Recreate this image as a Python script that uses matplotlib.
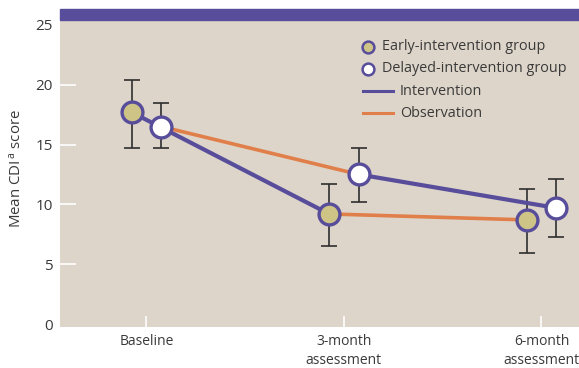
import matplotlib
matplotlib.use("Agg")
import matplotlib.pyplot as plt
from matplotlib.patches import Rectangle
from matplotlib.lines import Line2D

# Mean CDI scores (with error bar limits) per assessment
timepoints = ["Baseline", "3-month\nassessment", "6-month\nassessment"]
early_mean = [17.7, 9.2, 8.7]
early_low = [14.7, 6.5, 5.9]
early_high = [20.4, 11.7, 11.3]
delayed_mean = [16.5, 12.5, 9.7]
delayed_low = [14.7, 10.2, 7.3]
delayed_high = [18.5, 14.7, 12.1]
yticks = [0, 5, 10, 15, 20, 25]

PURPLE = "#584d9b"
ORANGE = "#e07f4a"
KHAKI = "#cdc485"
BEIGE = "#ddd5c9"
TEXT = "#3a3a3a"
ERR = "#2f2f2f"

plt.rcParams["font.family"] = ["Open Sans", "DejaVu Sans"]
plt.rcParams["mathtext.fontset"] = "custom"
plt.rcParams["mathtext.rm"] = "Open Sans"
plt.rcParams["mathtext.it"] = "Open Sans"

W, H = 579, 368
fig = plt.figure(figsize=(W / 100, H / 100), dpi=100)
ax = fig.add_axes([60 / W, 1 - 327.3 / H, 519 / W, 307.3 / H])
ax.set_facecolor(BEIGE)
for s in ax.spines.values():
    s.set_visible(False)

off = 0.075
x = list(range(len(timepoints)))
xe = [v - off for v in x]
xd = [v + off for v in x]

# Intervention segments: early group baseline->3 month, delayed group 3->6 month
ax.plot([xe[0], xe[1]], [early_mean[0], early_mean[1]], color=PURPLE, lw=3.0,
        solid_capstyle="round", zorder=2)
ax.plot([xd[1], xd[2]], [delayed_mean[1], delayed_mean[2]], color=PURPLE, lw=3.0,
        solid_capstyle="round", zorder=2)
# Observation segments: delayed group baseline->3 month, early group 3->6 month
ax.plot([xd[0], xd[1]], [delayed_mean[0], delayed_mean[1]], color=ORANGE, lw=2.6,
        zorder=2)
ax.plot([xe[1], xe[2]], [early_mean[1], early_mean[2]], color=ORANGE, lw=2.6,
        zorder=2)

# error bars
for xs, m, lo, hi in [(xe, early_mean, early_low, early_high),
                      (xd, delayed_mean, delayed_low, delayed_high)]:
    yerr = [[a - b for a, b in zip(m, lo)], [b - a for a, b in zip(m, hi)]]
    ax.errorbar(xs, m, yerr=yerr, fmt="none", ecolor=ERR, elinewidth=1.2,
                capsize=5.5, capthick=1.2, zorder=1)

ax.plot(xe, early_mean, "o", ms=15, mfc=KHAKI, mec=PURPLE, mew=2.4,
        linestyle="none", zorder=3)
ax.plot(xd, delayed_mean, "o", ms=15, mfc="white", mec=PURPLE, mew=2.4,
        linestyle="none", zorder=3)

ax.set_xlim(-0.437, 2.19)
ax.set_ylim(-0.27, 25.4)
ax.set_yticks(yticks)
ax.set_yticklabels([str(t) for t in yticks], fontsize=11, color=TEXT)
ax.set_xticks(x)
ax.set_xticklabels(timepoints, fontsize=10, color=TEXT, linespacing=1.45)
ax.tick_params(axis="y", direction="in", length=11.5, width=1.2, color="white",
               pad=5)
ax.tick_params(axis="x", direction="in", length=8, width=1.2, color="white",
               pad=4.5)
# tick marks only at the inner y values
for t in ax.yaxis.get_major_ticks():
    if t.get_loc() in (0, 25):
        t.tick1line.set_visible(False)

# purple band above the plotting area
fig.patches.append(Rectangle((60 / W, 1 - 20 / H), 519 / W, 11 / H,
                             transform=fig.transFigure, color=PURPLE,
                             zorder=0))

fig.text(17 / W, 1 - 169 / H, r"Mean CDI$^{\,\mathrm{a}}$ score", rotation=90,
         ha="center", va="center", fontsize=10.8, color=TEXT)

# legend
def px(xp, yp):
    return xp / W, 1 - yp / H

lx, ly, dy = 368, 46.5, 22.3
fig.add_artist(Line2D([px(lx, ly)[0]], [px(lx, ly)[1]], marker="o", ms=8.5,
                      mfc=KHAKI, mec=PURPLE, mew=1.8, transform=fig.transFigure))
fig.add_artist(Line2D([px(lx, ly + dy)[0]], [px(lx, ly + dy)[1]], marker="o",
                      ms=8.5, mfc="white", mec=PURPLE, mew=1.8,
                      transform=fig.transFigure))
for i, c in [(2, PURPLE), (3, ORANGE)]:
    a, b = px(363, ly + i * dy)
    a2, _ = px(393, ly + i * dy)
    fig.add_artist(Line2D([a, a2], [b, b], color=c, lw=2.2,
                          transform=fig.transFigure))
labels = ["Early-intervention group", "Delayed-intervention group",
          "Intervention", "Observation"]
for i, lab in enumerate(labels):
    tx = 382 if i < 2 else 400
    fig.text(*px(tx, ly + i * dy), lab, ha="left", va="center", fontsize=10.4,
             color=TEXT)

fig.savefig("out.png", dpi=100, facecolor="white")
